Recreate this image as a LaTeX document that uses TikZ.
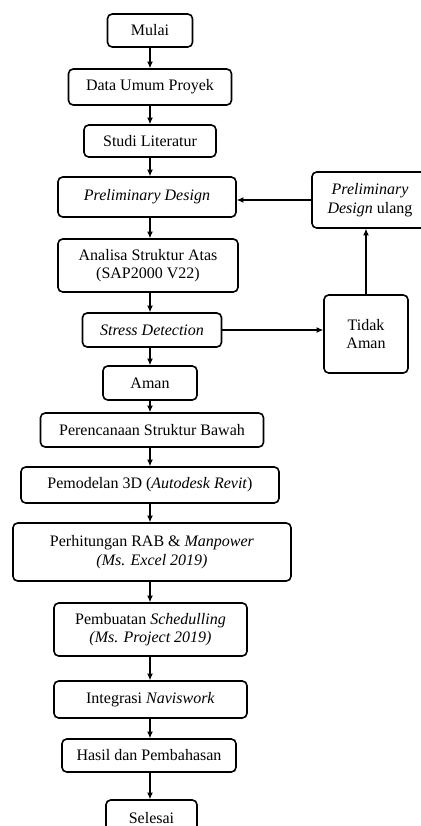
\documentclass[tikz,border=0pt]{standalone}
\usepackage{fontspec}
\setmainfont{Liberation Serif}
\usetikzlibrary{arrows.meta}

\begin{document}
\begin{tikzpicture}[
			     x=0.75pt, y=-0.75pt,
			     >={Latex[length=5pt,width=4.5pt]},
			     process/.style={draw, line width=1.2pt, rounded corners=3.5pt, align=center, inner sep=0pt, font=\fontsize{12}{14}\selectfont},
			     normal line/.style={->, line width=0.8pt}
			     ]
\useasboundingbox (0,0) rectangle (421,826);
\clip (0,0) rectangle (421,826);
% main column
\node[process, minimum width=63.75pt, minimum height=24.75pt] (mulai) at (150,30.5) {Mulai};
\node[process, minimum width=122.25pt, minimum height=27pt] (data) at (150,87) {Data Umum Proyek};
\node[process, minimum width=99pt, minimum height=24pt] (studi) at (150,141) {Studi Literatur};
\node[process, minimum width=133.5pt, minimum height=30pt] (prelim) at (147,197) {\textit{Preliminary Design}};
\node[process, minimum width=135pt, minimum height=39.75pt] (analisa) at (148,265.5) {Analisa Struktur Atas\\(SAP2000 V22)};
\node[process, minimum width=104.25pt, minimum height=25.5pt] (stress) at (152,330) {\textit{Stress Detection}};
\node[process, minimum width=70.5pt, minimum height=25.5pt] (aman) at (150,383) {Aman};
\node[process, minimum width=167.25pt, minimum height=25.5pt] (struktur) at (152,430) {Perencanaan Struktur Bawah};
\node[process, minimum width=193.5pt, minimum height=27pt] (model) at (150,485) {Pemodelan 3D (\textit{Autodesk Revit})};
\node[process, minimum width=208.5pt, minimum height=43.5pt] (rab) at (152,552) {Perhitungan RAB \& \textit{Manpower}\\\textit{(Ms. Excel 2019)}};
\node[process, minimum width=144.75pt, minimum height=39.75pt] (jadwal) at (150.5,629.5) {Pembuatan \textit{Schedulling}\\\textit{(Ms. Project 2019)}};
\node[process, minimum width=144.75pt, minimum height=27.75pt] (navis) at (150.5,699.5) {Integrasi \textit{Naviswork}};
\node[process, minimum width=130.5pt, minimum height=24.75pt] (hasil) at (149,755.5) {Hasil dan Pembahasan};
\node[process, minimum width=68.25pt, minimum height=27pt] (selesai) at (151.5,818) {Selesai};
% loop on the right
\node[process, minimum width=87pt, minimum height=42pt] (ulang) at (370,200) {\textit{Preliminary}\\\textit{Design} ulang};
\node[process, minimum width=63pt, minimum height=58.5pt] (tidak) at (366,334) {Tidak\\Aman};

\path (mulai) edge[normal line] (mulai |- data.north);
\path (data) edge[normal line] (data |- studi.north);
\path (studi) edge[normal line] (studi |- prelim.north);
\path (studi |- prelim.south) edge[normal line] (studi |- analisa.north);
\path (studi |- analisa.south) edge[normal line] (studi |- stress.north);
\path (studi |- stress.south) edge[normal line] (studi |- aman.north);
\path (aman) edge[normal line] (aman |- struktur.north);
\path (aman |- struktur.south) edge[normal line] (aman |- model.north);
\path (model) edge[normal line] (model |- rab.north);
\path (model |- rab.south) edge[normal line] (model |- jadwal.north);
\path (model |- jadwal.south) edge[normal line] (model |- navis.north);
\path (model |- navis.south) edge[normal line] (model |- hasil.north);
\path (model |- hasil.south) edge[normal line] (model |- selesai.north);
\path (stress.east) edge[normal line] (stress.east -| tidak.west);
\path (tidak.north) edge[normal line] (tidak.north |- ulang.south);
\path (ulang.west) edge[normal line] (ulang.west -| prelim.east);
\end{tikzpicture}
\end{document}
